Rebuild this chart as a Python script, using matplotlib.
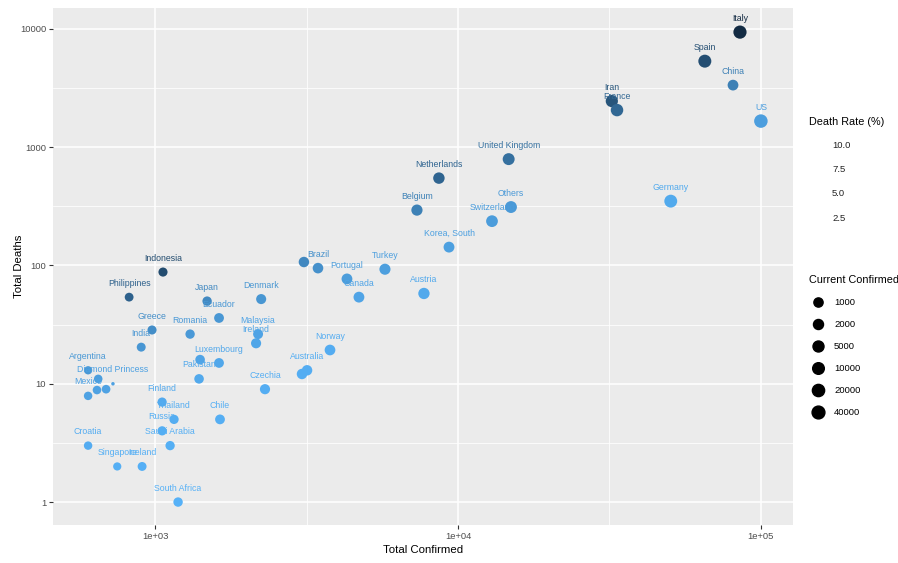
import matplotlib
matplotlib.use('Agg')
import matplotlib.pyplot as plt
import numpy as np
from matplotlib.colors import LinearSegmentedColormap, Normalize
from matplotlib.lines import Line2D
from matplotlib.ticker import FixedLocator, NullFormatter

plt.rcParams['font.family'] = ['Liberation Sans', 'DejaVu Sans']

# values
countries = ['Italy', 'Spain', 'China', 'US', 'Iran', 'France', 'Germany',
             'United Kingdom', 'Netherlands', 'Belgium', 'Others', 'Switzerland',
             'Korea, South', 'Austria', 'Turkey', 'Sweden', 'Brazil', 'Portugal',
             'Canada', 'Norway', 'Israel', 'Australia', 'Czechia', 'Denmark',
             'Malaysia', 'Ireland', 'Japan', 'Ecuador', 'Romania', 'Luxembourg',
             'Poland', 'Pakistan', 'Greece', 'India', 'Indonesia', 'Philippines',
             'Argentina', 'Peru', 'Colombia', 'Panama', 'Diamond Princess', 'Mexico',
             'Finland', 'Thailand', 'Russia', 'Saudi Arabia', 'Chile', 'Croatia',
             'Singapore', 'Iceland', 'South Africa']
confirmed = [85300, 65300, 80900, 100000, 32200, 33500, 50400,
             14700, 8650, 7320, 14960, 12950,
             9340, 7720, 5740, 3100, 3450, 4300,
             4710, 3780, 3055, 3175, 2306, 2240,
             2188, 2155, 1485, 1626, 1305, 1626,
             1408, 1397, 977, 900, 1062, 821,
             601, 649, 643, 689, 726, 601,
             1055, 1155, 1055, 1121, 1638, 601,
             750, 906, 1191]
deaths = [9400, 5340, 3350, 1663, 2455, 2060, 350,
          793, 548, 294, 312, 237,
          143, 58, 93, 107, 95, 77,
          54, 19.3, 12.1, 13, 9, 52,
          26.3, 22, 50, 36, 26.3, 15,
          16, 11, 28.5, 20.4, 88, 54,
          13, 11, 8.85, 9, 10, 7.9,
          7, 5, 4, 3, 5, 3,
          2, 2, 1]
current = [66000, 50000, 3900, 99000, 18800, 25700, 43900,
           13900, 8000, 6100, 13000, 11000,
           4300, 7000, 5500, 2900, 3300, 4100,
           4200, 3700, 2900, 2900, 2200, 2000,
           1800, 2100, 1100, 1600, 1100, 1550,
           1350, 1300, 880, 800, 900, 720,
           500, 600, 600, 650, 105, 570,
           1000, 1030, 1000, 1060, 1570, 560,
           480, 790, 1160]
labelled = [1, 1, 1, 1, 1, 1, 1,
            1, 1, 1, 1, 1,
            1, 1, 1, 0, 1, 1,
            1, 1, 0, 1, 1, 1,
            1, 1, 1, 1, 1, 1,
            0, 1, 1, 1, 1, 1,
            1, 0, 0, 0, 1, 1,
            1, 1, 1, 1, 1, 1,
            1, 1, 1]

size_breaks = [1000, 2000, 5000, 10000, 20000, 40000]
rate_ticks = [10.0, 7.5, 5.0, 2.5]

confirmed = np.array(confirmed, dtype=float)
deaths = np.array(deaths, dtype=float)
current = np.array(current, dtype=float)
rate = deaths / confirmed * 100

cmap = LinearSegmentedColormap.from_list('dr', ['#56B1F7', '#346E9D', '#132B43'])
norm = Normalize(rate.min(), rate.max())

lmin, lmax = np.log10(current.min()), np.log10(current.max())


def marker_px(v):
    t = np.clip((np.log10(v) - lmin) / (lmax - lmin), 0, 1)
    return 3.5 + 10 * np.sqrt(t)


def area(v):
    return (marker_px(v) * 0.72) ** 2


fig = plt.figure(figsize=(8.98, 5.63), dpi=100)
ax = fig.add_axes([53/898, 1-525/563, 740/898, 517/563])
ax.set_facecolor('#EBEBEB')

ax.scatter(confirmed, deaths, s=area(current), c=rate, cmap=cmap, norm=norm,
           linewidths=0, zorder=3)

for name, x, y, r, lab in zip(countries, confirmed, deaths, rate, labelled):
    if lab:
        ax.annotate(name, (x, y), xytext=(0, 10), textcoords='offset points',
                    ha='center', va='center', fontsize=6.3, color=cmap(norm(r)),
                    zorder=4)

ax.set_xscale('log')
ax.set_yscale('log')
ax.set_xlim(10**2.663, 10**5.106)
ax.set_ylim(10**-0.194, 10**4.177)

ax.xaxis.set_major_locator(FixedLocator([1e3, 1e4, 1e5]))
ax.set_xticklabels(['1e+03', '1e+04', '1e+05'])
ax.xaxis.set_minor_locator(FixedLocator([10**3.5, 10**4.5]))
ax.xaxis.set_minor_formatter(NullFormatter())
ax.yaxis.set_major_locator(FixedLocator([1, 10, 100, 1000, 10000]))
ax.set_yticklabels(['1', '10', '100', '1000', '10000'])
ax.yaxis.set_minor_locator(FixedLocator([10**0.5, 10**1.5, 10**2.5, 10**3.5]))
ax.yaxis.set_minor_formatter(NullFormatter())

ax.grid(which='major', color='white', linewidth=1.1, zorder=0)
ax.grid(which='minor', color='white', linewidth=0.55, zorder=0)
ax.set_axisbelow(True)
for sp in ax.spines.values():
    sp.set_visible(False)
ax.tick_params(which='major', length=3, width=0.8, color='#333333',
               labelsize=6.8, labelcolor='#4D4D4D', pad=2)
ax.tick_params(which='minor', length=0)

ax.set_xlabel('Total Confirmed', fontsize=8.2, labelpad=3)
ax.set_ylabel('Total Deaths', fontsize=8.2)
ax.yaxis.set_label_coords(-0.039, 0.5)

# colour legend (bar itself is blank in the reference)
cax = fig.add_axes([812/898, 1-240.5/563, 16/898, 106.2/563])
sm = plt.cm.ScalarMappable(norm=norm, cmap=cmap)
cb = fig.colorbar(sm, cax=cax, ticks=rate_ticks)
cb.solids.set_alpha(0)
cb.outline.set_visible(False)
cb.ax.set_yticklabels([f'{t:.1f}' for t in rate_ticks])
cb.ax.tick_params(length=0, labelsize=6.8, labelcolor='#222222', pad=3)
fig.text(809/898, 1-122/563, 'Death Rate (%)', fontsize=7.8, va='center')

# size legend
handles = [Line2D([], [], marker='o', linestyle='none', color='black',
                  markersize=marker_px(b) * 0.72) for b in size_breaks]
leg = ax.legend(handles, [str(b) for b in size_breaks], title='Current Confirmed',
                loc='upper left', bbox_to_anchor=(809/898, 1-275/563),
                bbox_transform=fig.transFigure, frameon=False, fontsize=6.8,
                title_fontsize=7.8, labelspacing=1.38, handletextpad=0.86,
                handlelength=1.8, borderaxespad=0, borderpad=0, alignment='left')

fig.savefig('out.png', dpi=100)
